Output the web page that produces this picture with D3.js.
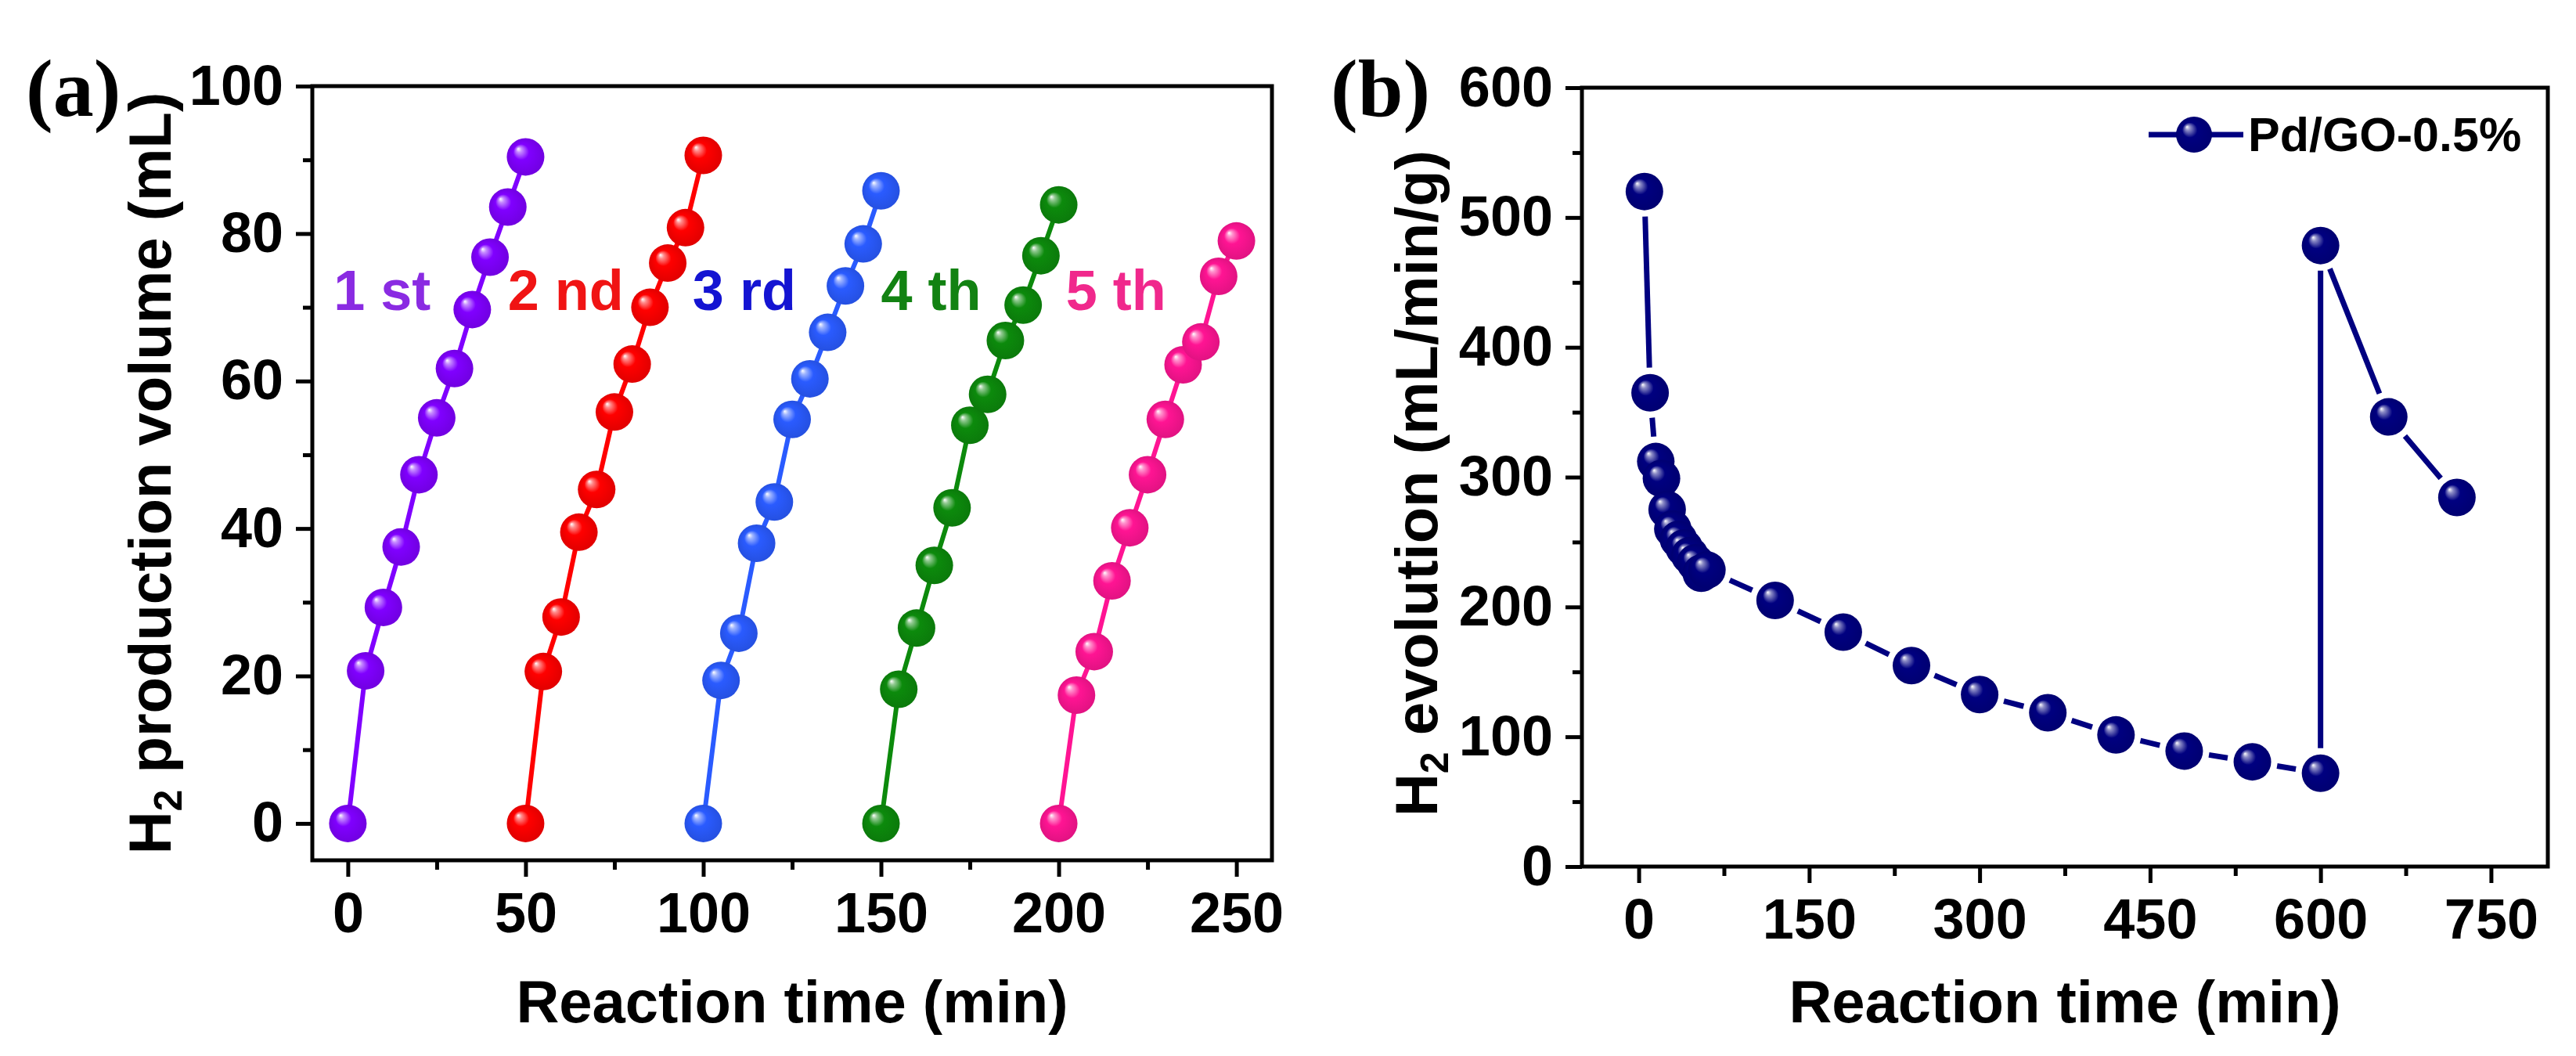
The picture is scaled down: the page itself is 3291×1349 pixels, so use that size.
<!DOCTYPE html>
<html>
<head>
<meta charset="utf-8">
<script src="https://cdn.jsdelivr.net/npm/d3@7"></script>
<style>
  html, body { margin: 0; padding: 0; background: #ffffff; }
  svg { display: block; }
</style>
</head>
<body>
<svg id="chart" width="3291" height="1349"></svg>
<script>
// ---------------- DATA ----------------
// Panel (a): H2 production volume for five recycling runs
const cycleLabels = ["1 st", "2 nd", "3 rd", "4 th", "5 th"];
const time1 = [0, 5, 10, 15, 20, 25, 30, 35, 40, 45, 50];
const time2 = [50, 55, 60, 65, 70, 75, 80, 85, 90, 95, 100];
const time3 = [100, 105, 110, 115, 120, 125, 130, 135, 140, 145, 150];
const time4 = [150, 155, 160, 165, 170, 175, 180, 185, 190, 195, 200];
const time5 = [200, 205, 210, 215, 220, 225, 230, 235, 240, 245, 250];
const volume1 = [0, 20.7, 29.3, 37.5, 47.3, 55.0, 61.7, 69.7, 76.8, 83.6, 90.4];
const volume2 = [0, 20.6, 28.0, 39.5, 45.3, 55.8, 62.3, 70.0, 76.0, 80.8, 90.6];
const volume3 = [0, 19.4, 25.8, 38.0, 43.6, 54.8, 60.3, 66.6, 72.9, 78.6, 85.8];
const volume4 = [0, 18.2, 26.5, 35.0, 42.8, 54.0, 58.2, 65.5, 70.3, 77.0, 83.9];
const volume5 = [0, 17.4, 23.3, 32.9, 40.1, 47.3, 54.8, 62.2, 65.3, 74.2, 79.0];
const xTicksA = [0, 50, 100, 150, 200, 250];
const xMinorA = [25, 75, 125, 175, 225];
const yTicksA = [0, 20, 40, 60, 80, 100];
const yMinorA = [10, 30, 50, 70, 90];

// Panel (b): H2 evolution rate of Pd/GO-0.5%
const seriesNameB = "Pd/GO-0.5%";
const timeB = [5, 10, 15, 20, 25, 30, 35, 40, 45, 50, 55, 60, 120, 180, 240, 300, 360, 420, 480, 540, 600, 600, 660, 720];
const rateB = [520, 365, 312, 299, 275, 260, 252, 245.5, 239.5, 234, 226, 228.5, 205, 180.6, 154.8, 132.5, 118.5, 101.4, 89, 80.7, 71.9, 478.4, 346.4, 284.3];
const xTicksB = [0, 150, 300, 450, 600, 750];
const xMinorB = [75, 225, 375, 525, 675];
const yTicksB = [0, 100, 200, 300, 400, 500, 600];
const yMinorB = [50, 150, 250, 350, 450, 550];

// ---------------- STYLE ----------------
const lineColors = ["#8000ff", "#ff0000", "#2a5bff", "#0c8a0c", "#ff1493"];
const textColors = ["#8a2be2", "#f01414", "#1414d2", "#128212", "#f0288c"];
const navy = "#000080";
const FONT = "'Liberation Sans', Arial, sans-serif";
const SERIF = "'Liberation Serif', 'Times New Roman', serif";

const svg = d3.select("#chart");
const defs = svg.append("defs");

function sphereGradient(id, color) {
  const c = d3.color(color);
  const g = defs.append("radialGradient").attr("id", id)
    .attr("cx", "50%").attr("cy", "50%").attr("r", "50%")
    .attr("fx", "30%").attr("fy", "28%");
  g.append("stop").attr("offset", "0%").attr("stop-color", "#ffffff");
  g.append("stop").attr("offset", "14%").attr("stop-color", d3.interpolateRgb(color, "#ffffff")(0.55));
  g.append("stop").attr("offset", "42%").attr("stop-color", color);
  g.append("stop").attr("offset", "100%").attr("stop-color", c.darker(0.35).formatHex());
}
lineColors.forEach((c, i) => sphereGradient("sph" + i, c));
sphereGradient("sphB", navy);

// ---------------- AXES HELPER ----------------
function drawAxes(g, x, y, box, xt, xm, yt, ym) {
  const major = 21, minor = 12;
  const gx = g.append("g").attr("transform", `translate(0,${box.bottom})`)
    .call(d3.axisBottom(x).tickValues(xt).tickSize(major).tickSizeOuter(0).tickPadding(20).tickFormat(d3.format("d")));
  const gxm = g.append("g").attr("transform", `translate(0,${box.bottom})`)
    .call(d3.axisBottom(x).tickValues(xm).tickSize(minor).tickSizeOuter(0).tickFormat(""));
  const gy = g.append("g").attr("transform", `translate(${box.left},0)`)
    .call(d3.axisLeft(y).tickValues(yt).tickSize(major).tickSizeOuter(0).tickPadding(16).tickFormat(d3.format("d")));
  const gym = g.append("g").attr("transform", `translate(${box.left},0)`)
    .call(d3.axisLeft(y).tickValues(ym).tickSize(minor).tickSizeOuter(0).tickFormat(""));
  [gx, gxm, gy, gym].forEach(a => {
    a.select(".domain").remove();
    a.selectAll(".tick line").attr("stroke", "#000").attr("stroke-width", 5);
    a.selectAll(".tick text").attr("fill", "#000")
      .style("font-family", FONT).style("font-weight", "bold").style("font-size", "72px");
  });
  g.append("rect")
    .attr("x", box.left).attr("y", box.top)
    .attr("width", box.right - box.left).attr("height", box.bottom - box.top)
    .attr("fill", "none").attr("stroke", "#000").attr("stroke-width", 5);
}

function titleText(g, x, y, rotate, parts) {
  const t = g.append("text")
    .attr("transform", `translate(${x},${y})` + (rotate ? " rotate(-90)" : ""))
    .attr("text-anchor", "middle")
    .style("font-family", FONT).style("font-weight", "bold").style("font-size", "76px")
    .attr("fill", "#000");
  parts.forEach(p => {
    const s = t.append("tspan").text(p.text);
    if (p.sub) s.style("font-size", "50px").attr("dy", 14);
    if (p.after) s.attr("dy", -14);
  });
  return t;
}

// ---------------- PANEL (a) ----------------
const boxA = { left: 399, right: 1625, top: 110, bottom: 1099 };
const xA = d3.scaleLinear().domain([-10, 260]).range([boxA.left, boxA.right]);
const yA = d3.scaleLinear().domain([-5, 100]).range([boxA.bottom, boxA.top]);
const gA = svg.append("g");
drawAxes(gA, xA, yA, boxA, xTicksA, xMinorA, yTicksA, yMinorA);

const timesA = [time1, time2, time3, time4, time5];
const volsA = [volume1, volume2, volume3, volume4, volume5];
const lineA = d3.line().x(d => xA(d[0])).y(d => yA(d[1]));
timesA.forEach((ts, i) => {
  const pts = ts.map((t, j) => [t, volsA[i][j]]);
  gA.append("path").attr("d", lineA(pts))
    .attr("fill", "none").attr("stroke", lineColors[i]).attr("stroke-width", 6)
    .attr("stroke-linejoin", "round");
});
timesA.forEach((ts, i) => {
  const pts = ts.map((t, j) => [t, volsA[i][j]]);
  gA.selectAll(null).data(pts).enter().append("circle")
    .attr("cx", d => xA(d[0])).attr("cy", d => yA(d[1])).attr("r", 24)
    .attr("fill", `url(#sph${i})`);
});
// cycle labels, placed relative to each cycle's start time
const labelOffsetsA = [-4, 45, 97, 150, 202];
cycleLabels.forEach((lab, i) => {
  gA.append("text")
    .attr("x", xA(labelOffsetsA[i])).attr("y", 396)
    .style("font-family", FONT).style("font-weight", "bold").style("font-size", "72px")
    .attr("fill", textColors[i]).text(lab);
});
titleText(gA, (boxA.left + boxA.right) / 2, 1306, false, [{ text: "Reaction time (min)" }]);
titleText(gA, 218, (boxA.top + boxA.bottom) / 2, true,
  [{ text: "H" }, { text: "2", sub: true }, { text: " production volume (mL)", after: true }]);
gA.append("text").attr("x", 33).attr("y", 148)
  .style("font-family", SERIF).style("font-weight", "bold").style("font-size", "104px")
  .attr("fill", "#000").text("(a)");

// ---------------- PANEL (b) ----------------
const boxB = { left: 2021, right: 3255, top: 112, bottom: 1107 };
const xB = d3.scaleLinear().domain([-50, 800]).range([boxB.left, boxB.right]);
const yB = d3.scaleLinear().domain([0, 600]).range([boxB.bottom, boxB.top]);
const gB = svg.append("g");
drawAxes(gB, xB, yB, boxB, xTicksB, xMinorB, yTicksB, yMinorB);

const ptsB = timeB.map((t, j) => [xB(t), yB(rateB[j])]);
const rB = 24, gapB = 32;
for (let j = 0; j < ptsB.length - 1; j++) {
  const [x1, y1] = ptsB[j], [x2, y2] = ptsB[j + 1];
  const dx = x2 - x1, dy = y2 - y1, d = Math.hypot(dx, dy);
  if (d <= 2 * gapB) continue;
  const ux = dx / d, uy = dy / d;
  gB.append("line")
    .attr("x1", x1 + ux * gapB).attr("y1", y1 + uy * gapB)
    .attr("x2", x2 - ux * gapB).attr("y2", y2 - uy * gapB)
    .attr("stroke", navy).attr("stroke-width", 7);
}
gB.selectAll(null).data(ptsB).enter().append("circle")
  .attr("cx", d => d[0]).attr("cy", d => d[1]).attr("r", rB)
  .attr("fill", "url(#sphB)");

// legend
const leg = gB.append("g").attr("transform", "translate(2745,172)");
leg.append("line").attr("x1", 0).attr("x2", 121).attr("y1", 0).attr("y2", 0)
  .attr("stroke", navy).attr("stroke-width", 7);
leg.append("circle").attr("cx", 58).attr("cy", 0).attr("r", 23).attr("fill", "url(#sphB)");
leg.append("text").attr("x", 127).attr("y", 21)
  .style("font-family", FONT).style("font-weight", "bold").style("font-size", "61px")
  .attr("fill", "#000").text(seriesNameB);

titleText(gB, (boxB.left + boxB.right) / 2, 1306, false, [{ text: "Reaction time (min)" }]);
titleText(gB, 1836, (boxB.top + boxB.bottom) / 2 + 8, true,
  [{ text: "H" }, { text: "2", sub: true }, { text: " evolution (mL/min/g)", after: true }]);
gB.append("text").attr("x", 1700).attr("y", 148)
  .style("font-family", SERIF).style("font-weight", "bold").style("font-size", "104px")
  .attr("fill", "#000").text("(b)");
</script>
</body>
</html>
